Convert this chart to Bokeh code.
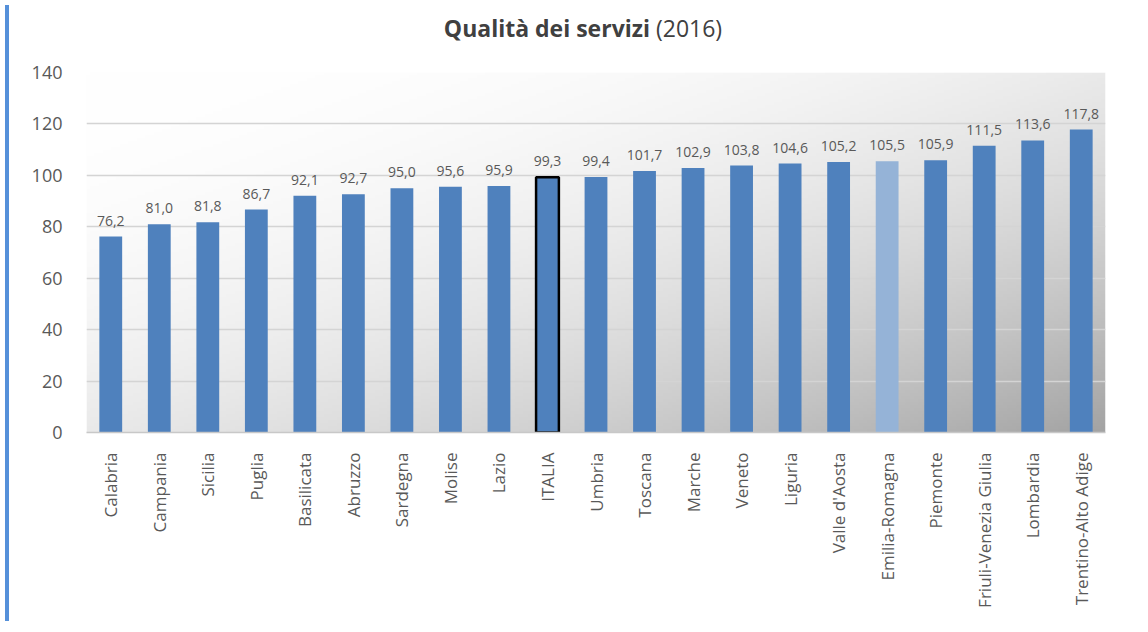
import numpy as np
from bokeh.plotting import figure
from bokeh.models import ColumnDataSource, Div, FixedTicker
from bokeh.layouts import row, column
from bokeh.core.properties import value
from bokeh.embed import file_html
from bokeh.resources import INLINE

# ---- data ----
regions = ["Calabria", "Campania", "Sicilia", "Puglia", "Basilicata", "Abruzzo",
           "Sardegna", "Molise", "Lazio", "ITALIA", "Umbria", "Toscana", "Marche",
           "Veneto", "Liguria", "Valle d'Aosta", "Emilia-Romagna", "Piemonte",
           "Friuli-Venezia Giulia", "Lombardia", "Trentino-Alto Adige"]
values = [76.2, 81.0, 81.8, 86.7, 92.1, 92.7, 95.0, 95.6, 95.9, 99.3, 99.4,
          101.7, 102.9, 103.8, 104.6, 105.2, 105.5, 105.9, 111.5, 113.6, 117.8]
y_ticks = [0, 20, 40, 60, 80, 100, 120, 140]
highlight = "Emilia-Romagna"
national = "ITALIA"

FONT = "Open Sans"
TXT = "#595959"

labels = [f"{v:.1f}".replace(".", ",") for v in values]
colors = ["#95b3d7" if r == highlight else "#4f81bd" for r in regions]
outline = ["#000000" if r == national else None for r in regions]
outline_w = [2.5 if r == national else 0 for r in regions]

src = ColumnDataSource(dict(x=regions, top=values, label=labels,
                            color=colors, lc=outline, lw=outline_w))

p = figure(x_range=regions, y_range=(y_ticks[0], y_ticks[-1]),
           width=1128, height=572, output_backend="svg", toolbar_location=None,
           min_border_left=72, min_border_right=37, min_border_top=21,
           min_border_bottom=191)
p.outline_line_color = None
p.background_fill_color = "white"
p.border_fill_color = "white"

# gradient background of the plot area (decoration)
ny, nx = 120, 240
X, Y = np.meshgrid(np.linspace(0, 1, nx), np.linspace(0, 1, ny))
s = (X + (1 - Y)) / 2
g = np.clip(255 - 92 * s ** 2.1, 0, 255).astype(np.uint8)
img = np.empty((ny, nx), dtype=np.uint32)
view = img.view(dtype=np.uint8).reshape((ny, nx, 4))
view[..., 0] = g
view[..., 1] = g
view[..., 2] = g
view[..., 3] = 255
p.image_rgba(image=[img], x=0, y=y_ticks[0], dw=len(regions),
             dh=y_ticks[-1] - y_ticks[0], level="image")

p.vbar(x="x", top="top", width=0.47, source=src, fill_color="color",
       line_color="lc", line_width="lw")

p.text(x="x", y="top", text="label", source=src, text_align="center",
       text_baseline="bottom", y_offset=-11, text_font=value(FONT),
       text_font_size="14px", text_color=TXT)

p.xgrid.grid_line_color = None
p.ygrid.grid_line_color = "#d4d4d4"
p.ygrid.grid_line_width = 1.5

p.yaxis.ticker = FixedTicker(ticks=y_ticks)
p.yaxis.axis_line_color = None
p.yaxis.major_tick_line_color = None
p.yaxis.minor_tick_line_color = None
p.yaxis.major_label_text_font = FONT
p.yaxis.major_label_text_font_size = "18px"
p.yaxis.major_label_text_color = TXT
p.yaxis.major_label_standoff = 18

p.xaxis.axis_line_color = "#c8c8c8"
p.xaxis.axis_line_width = 1.5
p.xaxis.major_tick_line_color = None
p.xaxis.major_label_orientation = np.pi / 2
p.xaxis.major_label_text_font = FONT
p.xaxis.major_label_text_font_size = "17px"
p.xaxis.major_label_text_color = TXT
p.xaxis.major_label_standoff = 14

title = Div(text=('<div style="width:1128px;text-align:center;'
                  'font-family:\'Open Sans\';font-size:23px;color:#404040;'
                  'padding-top:7px;">'
                  '<b>Qualità dei servizi</b> (2016)</div>'),
            width=1128, height=41)
bar = Div(text="", width=4, height=616,
          styles={"background-color": "#5590d9"})

layout = row(bar, column(title, p, spacing=0), spacing=0)
open("out.html", "w").write(file_html(layout, INLINE))
